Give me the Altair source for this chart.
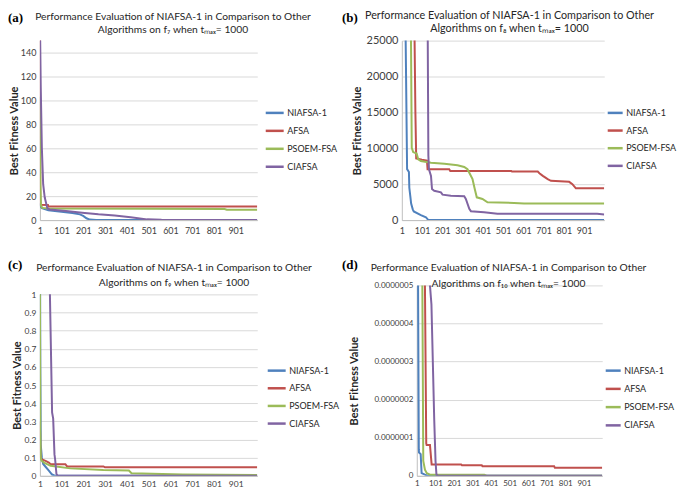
import altair as alt
import pandas as pd

SERIES = ["NIAFSA-1", "AFSA", "PSOEM-FSA", "CIAFSA"]
COLORS = ["#4F81BD", "#C0504D", "#9BBB59", "#8064A2"]
X_TICKS = [1, 101, 201, 301, 401, 501, 601, 701, 801, 901]

# ---------------- panel (a): f7 ----------------
a_nia_it = [1, 4, 10, 40, 100, 150, 185, 200, 215, 230, 260, 1000]
a_nia_v = [14, 11.5, 10, 8.3, 7, 6, 4.8, 3.5, 1.5, 0.4, 0, 0]
a_afsa_it = [1, 3, 38, 40, 1000]
a_afsa_v = [160, 12.8, 12.6, 11.3, 11.3]
a_pso_it = [1, 3, 6, 12, 40, 500, 850, 860, 1000]
a_pso_v = [103, 30, 12, 10.2, 9.6, 9.4, 9.3, 8.7, 8.7]
a_cia_it = [1, 5, 10, 16, 23, 35, 46, 121, 195, 270, 345, 418, 494, 560, 1000]
a_cia_v = [170, 110, 60, 30, 19, 10, 8.8, 7.5, 6.2, 4.8, 3.8, 2.4, 0.6, 0.3, 0.1]

# ---------------- panel (b): f8 ----------------
b_nia_it = [1, 20, 27, 36, 38, 43, 47, 55, 60, 95, 120, 132, 1000]
b_nia_v = [60000, 25000, 7100, 6700, 4500, 3300, 2300, 1500, 1200, 700, 400, 0, 0]
b_afsa_it = [1, 60, 64, 68, 72, 100, 125, 128, 235, 240, 541, 545, 672, 680, 697, 721, 737, 827, 843, 860, 1000]
b_afsa_v = [80000, 30000, 25000, 15000, 8600, 8400, 8300, 7080, 7080, 6850, 6850, 6760, 6760, 6530, 6160, 5700, 5470, 5330, 5010, 4420, 4420]
b_pso_it = [1, 45, 50, 57, 74, 82, 95, 145, 211, 276, 309, 325, 350, 361, 371, 399, 424, 555, 604, 1000]
b_pso_v = [70000, 30000, 10060, 9470, 9280, 8460, 8230, 8000, 7860, 7630, 7400, 7080, 5700, 4320, 3170, 2940, 2480, 2390, 2300, 2300]
b_cia_it = [1, 125, 129, 132, 135, 145, 150, 161, 194, 202, 243, 309, 317, 334, 342, 407, 473, 965, 1000]
b_cia_v = [90000, 30000, 25000, 9000, 7080, 6160, 4320, 4090, 3860, 3540, 3400, 3310, 2940, 1560, 1240, 1100, 870, 870, 780]

# ---------------- panel (c): f9 ----------------
c_nia_it = [1, 3, 5, 10, 16, 27, 42, 57, 72, 1000]
c_nia_v = [1.5, 0.6, 0.17, 0.1, 0.065, 0.05, 0.029, 0.007, 0, 0]
c_afsa_it = [1, 3, 5, 10, 27, 42, 50, 118, 126, 293, 300, 1000]
c_afsa_v = [0.3, 0.13, 0.1, 0.09, 0.082, 0.073, 0.064, 0.064, 0.052, 0.052, 0.047, 0.047]
c_pso_it = [1, 3, 5, 8, 20, 50, 141, 293, 410, 422, 658, 1000]
c_pso_v = [1.05, 0.25, 0.1, 0.085, 0.073, 0.055, 0.041, 0.032, 0.029, 0.0145, 0.007, 0.005]
c_cia_it = [1, 45, 47, 57, 62, 68, 71, 77, 83, 1000]
c_cia_v = [3, 1.2, 1.0, 0.35, 0.315, 0.118, 0.09, 0.01, 0, 0]

# ---------------- panel (d): f10 ----------------
d_nia_it = [1, 8, 12, 13, 22, 27, 45, 63, 1000]
d_nia_v = [8e-7, 5e-7, 0.7e-7, 0.61e-7, 0.57e-7, 0.07e-7, 0.03e-7, 0, 0]
d_afsa_it = [1, 42, 45, 52, 54, 72, 81, 240, 244, 351, 355, 741, 745, 1000]
d_afsa_v = [30e-7, 6e-7, 5e-7, 0.85e-7, 0.81e-7, 0.81e-7, 0.30e-7, 0.30e-7, 0.28e-7, 0.28e-7, 0.25e-7, 0.25e-7, 0.21e-7, 0.21e-7]
d_pso_it = [1, 28, 31, 36, 45, 55, 72, 365, 380, 1000]
d_pso_v = [20e-7, 5.5e-7, 5e-7, 0.39e-7, 0.16e-7, 0.07e-7, 0.03e-7, 0.03e-7, 0, 0]
d_cia_it = [1, 70, 72, 80, 95, 102, 107, 116, 1000]
d_cia_v = [40e-7, 6e-7, 5e-7, 4.5e-7, 1.47e-7, 0.39e-7, 0.03e-7, 0, 0]

TITLE1 = "Performance Evaluation of NIAFSA-1 in Comparison to Other"


def table(parts):
    rows = []
    for name, its, vals in parts:
        for it, v in zip(its, vals):
            rows.append({"iter": it, "val": v, "series": name})
    return pd.DataFrame(rows)


def panel(df, tag, line2, w, h, ydom, yticks, yfmt, ylab_fs, xlab_fs, xlab_pad,
          leg_fs, leg_x, leg_y, row_pad, sym, title_fs, title_off, sub_pad,
          tag_x, tag_y, ytitle_pad, label_expr=None):
    yaxis_kw = dict(values=yticks, title="Best Fitness Value", titleFont="Lato",
                    titleFontSize=11, titleFontWeight="bold", titleColor="#262626",
                    titlePadding=ytitle_pad, grid=True, gridColor="#D9D9D9", gridWidth=1,
                    ticks=False, tickSize=0, domain=True, domainColor="#BFBFBF",
                    labelFont="Lato", labelFontSize=ylab_fs, labelColor="#404040",
                    labelPadding=4, labelFlush=False, labelOverlap=False, format=yfmt)
    if label_expr:
        yaxis_kw["labelExpr"] = label_expr
    lines = alt.Chart(df).mark_line(clip=True, strokeWidth=2).encode(
        x=alt.X("iter:Q", scale=alt.Scale(domain=[1, 1000], nice=False, zero=False),
                axis=alt.Axis(values=X_TICKS, title=None, grid=False, ticks=False, tickSize=0,
                              domain=True, domainColor="#BFBFBF", labelFont="Lato",
                              labelFontSize=xlab_fs, labelColor="#404040", labelPadding=xlab_pad,
                              labelFlush=False, labelOverlap=False, format="d")),
        y=alt.Y("val:Q", scale=alt.Scale(domain=ydom, nice=False, zero=True),
                axis=alt.Axis(**yaxis_kw)),
        color=alt.Color("series:N", scale=alt.Scale(domain=SERIES, range=COLORS),
                        legend=alt.Legend(orient="none", legendX=leg_x, legendY=leg_y, title=None,
                                          symbolType="stroke", symbolSize=sym * sym,
                                          symbolStrokeWidth=2.5, labelFont="Lato",
                                          labelFontSize=leg_fs, labelColor="#262626",
                                          rowPadding=row_pad, labelOffset=2, padding=0)),
    )
    label = alt.Chart(pd.DataFrame({"t": [tag]})).mark_text(
        font="Liberation Serif", fontWeight="bold", fontSize=13, align="left",
        baseline="middle", color="#000000").encode(
        text="t:N", x=alt.value(tag_x), y=alt.value(tag_y))
    return alt.layer(lines, label).properties(
        width=w, height=h,
        title=alt.TitleParams(text=TITLE1, subtitle=line2, anchor="middle", frame="bounds",
                              font="Lato", fontSize=title_fs, fontWeight="normal",
                              color="#262626", subtitleFont="Lato", subtitleFontSize=title_fs,
                              subtitleColor="#262626", subtitlePadding=sub_pad,
                              offset=title_off))


dfa = table([("NIAFSA-1", a_nia_it, a_nia_v), ("AFSA", a_afsa_it, a_afsa_v),
             ("PSOEM-FSA", a_pso_it, a_pso_v), ("CIAFSA", a_cia_it, a_cia_v)])
dfb = table([("NIAFSA-1", b_nia_it, b_nia_v), ("AFSA", b_afsa_it, b_afsa_v),
             ("PSOEM-FSA", b_pso_it, b_pso_v), ("CIAFSA", b_cia_it, b_cia_v)])
dfc = table([("NIAFSA-1", c_nia_it, c_nia_v), ("AFSA", c_afsa_it, c_afsa_v),
             ("PSOEM-FSA", c_pso_it, c_pso_v), ("CIAFSA", c_cia_it, c_cia_v)])
dfd = table([("NIAFSA-1", d_nia_it, d_nia_v), ("AFSA", d_afsa_it, d_afsa_v),
             ("PSOEM-FSA", d_pso_it, d_pso_v), ("CIAFSA", d_cia_it, d_cia_v)])

A = panel(dfa, "(a)", "Algorithms on f\u2087 when t\u2098\u2090\u2093= 1000", 218, 180, [0, 150],
          [0, 20, 40, 60, 80, 100, 120, 140], "d", 9, 9, 6,
          9, 225, 62, 2, 18, 10.3, -23.5, 3, -32, -23, 1)
B = panel(dfb, "(b)", "Algorithms on f\u2088 when t\u2098\u2090\u2093= 1000", 203, 180, [0, 25000],
          [0, 5000, 10000, 15000, 20000, 25000], "d", 11, 9, 6,
          9, 205, 63.5, 3.7, 15, 10.8, -22.5, 3, -60, -23, 4)
C = panel(dfc, "(c)", "Algorithms on f\u2089 when t\u2098\u2090\u2093= 1000", 218, 182, [0, 1],
          [0, 0.1, 0.2, 0.3, 0.4, 0.5, 0.6, 0.7, 0.8, 0.9, 1.0], "~g", 8.5, 8.5, 4,
          9, 227, 66, 1.7, 18, 10.3, -28.5, 4, -32, -29, 2)
D = panel(dfd, "(d)", "Algorithms on f\u2081\u2080 when t\u2098\u2090\u2093= 1000", 186, 191, [0, 5e-7],
          [0, 1e-7, 2e-7, 3e-7, 4e-7, 5e-7], ".7f", 8, 8, 4,
          9, 188, 76.5, 4.3, 15, 10.3, -29.5, 5.5, -75, -20, 14,
          label_expr="datum.value == 0 ? '0' : format(datum.value, '.7f')")

chart = alt.concat(A, B, C, D, columns=2, spacing={"row": 24.5, "column": 2}, align="none").resolve_scale(
    color="independent").properties(padding=0, background="#FFFFFF").configure_view(strokeWidth=0)

chart.save("out.html", embed_options={"renderer": "svg", "actions": False})
